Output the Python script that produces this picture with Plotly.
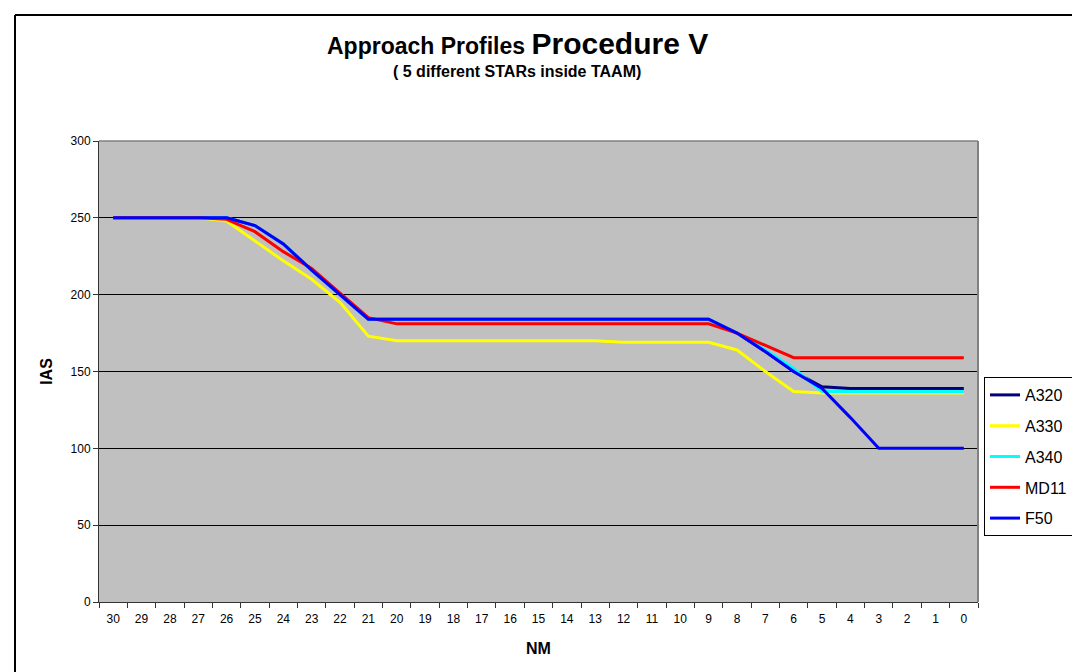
import plotly.graph_objects as go

nm = [str(v) for v in range(30, -1, -1)]

a320 = [250, 250, 250, 250, 250, 245, 233, 216, 200, 184,
        184, 184, 184, 184, 184, 184, 184, 184, 184, 184, 184, 184,
        175, 163, 150, 140, 139, 139, 139, 139, 139]
a330 = [250, 250, 250, 250, 248, 235, 222, 210, 195, 173,
        170, 170, 170, 170, 170, 170, 170, 170, 169, 169, 169, 169,
        164, 150, 137, 136, 136, 136, 136, 136, 136]
a340 = [250, 250, 250, 250, 250, 245, 233, 216, 200, 184,
        184, 184, 184, 184, 184, 184, 184, 184, 184, 184, 184, 184,
        175, 164, 152, 137, 137, 137, 137, 137, 137]
md11 = [250, 250, 250, 250, 249, 241, 228, 217, 201, 185,
        181, 181, 181, 181, 181, 181, 181, 181, 181, 181, 181, 181,
        175, 167, 159, 159, 159, 159, 159, 159, 159]
f50 = [250, 250, 250, 250, 250, 245, 233, 216, 200, 184,
       184, 184, 184, 184, 184, 184, 184, 184, 184, 184, 184, 184,
       175, 163, 150, 139, 120, 100, 100, 100, 100]

series = [("A320", a320, "#000080"), ("A330", a330, "#FFFF00"),
          ("A340", a340, "#00FFFF"), ("MD11", md11, "#FF0000"),
          ("F50", f50, "#0000FF")]

FONT = "Liberation Sans, Arial, sans-serif"

fig = go.Figure()
for name, vals, col in series:
    fig.add_trace(go.Scatter(x=nm, y=vals, mode="lines", name=name,
                             legendgroup=name,
                             line=dict(color=col, width=3)))

W, H = 1080, 672
L, R, T, B = 91, 970, 133, 594
pw, ph = R - L, B - T

def px(x):
    return (x - L) / pw

def py(y):
    return (B - y) / ph

fig.update_layout(
    width=W, height=H,
    margin=dict(l=L, r=W - R, t=T, b=H - B),
    paper_bgcolor="white",
    plot_bgcolor="#C0C0C0",
    font=dict(family=FONT, color="black", size=12),
    showlegend=True,
    legend=dict(x=px(976), y=py(369), xanchor="left", yanchor="top",
                bordercolor="black", borderwidth=1, bgcolor="white",
                font=dict(size=16, family=FONT), tracegroupgap=7,
                traceorder="grouped"),
    xaxis=dict(type="category", categoryorder="array", categoryarray=nm,
               tickson="boundaries", ticks="outside", ticklen=5,
               tickcolor="#333", showgrid=False, showline=True,
               linecolor="#333", linewidth=1, mirror=False,
               tickfont=dict(size=12), range=[-0.5, 30.5],
               ticklabelstandoff=6,
               title=dict(text="<b>NM</b>", font=dict(size=16), standoff=17)),
    yaxis=dict(range=[0, 300], dtick=50, ticks="outside", ticklen=5,
               tickcolor="#333", showgrid=True, gridcolor="#000000",
               gridwidth=1, showline=True, linecolor="#333", linewidth=1,
               zeroline=False, tickfont=dict(size=12),
               title=dict(text="<b>IAS</b>", font=dict(size=16), standoff=13)),
)

# plot-area border (top and right, grey)
fig.add_shape(type="line", xref="paper", yref="paper", x0=0, x1=1, y0=1, y1=1,
              line=dict(color="#808080", width=1.5))
fig.add_shape(type="line", xref="paper", yref="paper", x0=1, x1=1, y0=0, y1=1,
              line=dict(color="#808080", width=2))

# outer chart border (only left and top visible)
fig.add_shape(type="line", xref="paper", yref="paper",
              x0=px(7), x1=px(1090), y0=py(7), y1=py(7),
              line=dict(color="black", width=2))
fig.add_shape(type="line", xref="paper", yref="paper",
              x0=px(7), x1=px(7), y0=py(7), y1=py(690),
              line=dict(color="black", width=2))

fig.add_annotation(xref="paper", yref="paper", x=px(509), y=py(54),
                   xanchor="center", yanchor="bottom", showarrow=False,
                   text="<b><span style='font-size:23px'>Approach Profiles </span>"
                        "<span style='font-size:30px'>Procedure V</span></b>",
                   font=dict(family=FONT))
fig.add_annotation(xref="paper", yref="paper", x=px(509), y=py(74),
                   xanchor="center", yanchor="bottom", showarrow=False,
                   text="<b>( 5 different STARs inside TAAM)</b>",
                   font=dict(family=FONT, size=16))

fig.write_html("out.html")
